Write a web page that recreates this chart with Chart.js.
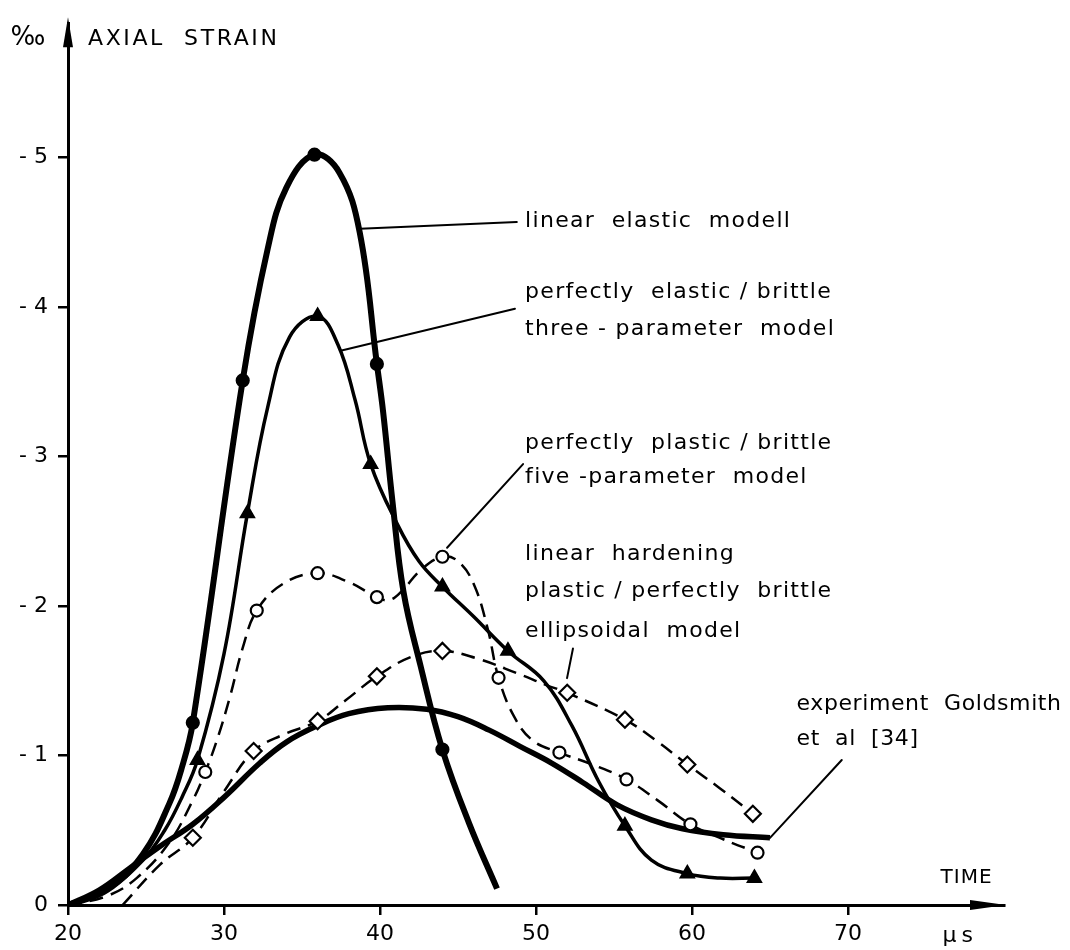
<!DOCTYPE html>
<html>
<head>
<meta charset="utf-8">
<script src="https://cdn.jsdelivr.net/npm/chart.js@4.4.1/dist/chart.umd.min.js"></script>
<style>
  html, body { margin: 0; padding: 0; background: #fff; }
  canvas { display: block; }
</style>
</head>
<body>
<canvas id="strain" width="1070" height="950"></canvas>
<script>
// Axial strain (‰, compressive, drawn upward) against time (µs)
const xTickValues = [20, 30, 40, 50, 60, 70];
const yTickValues = [0, 1, 2, 3, 4, 5];

// linear elastic model: marked points, and further points along its curve
const elasticMarks = [[28, 1.22], [31.2, 3.51], [35.8, 5.02], [39.8, 3.62], [44, 1.04]];
const elasticPath = [[20, 0], [22.5, 0.1], [24.8, 0.34], [26.5, 0.68], [27.3, 0.92], [32.8, 4.39],
  [34, 4.8], [37.4, 4.9], [38.7, 4.5], [40.2, 3.3], [40.8, 2.7], [41.5, 2.1], [42.6, 1.6],
  [45.7, 0.55], [47.5, 0.11]];

// perfectly elastic / brittle three-parameter model
const brittleMarks = [[28.3, 0.97], [31.5, 2.62], [36, 3.94], [39.4, 2.95], [44, 2.13], [48.2, 1.7],
  [55.7, 0.53], [59.7, 0.21], [64, 0.18]];
const brittlePath = [[20, 0], [22.5, 0.1], [24.8, 0.3], [26.2, 0.5], [27.3, 0.72], [30, 1.68],
  [32.8, 3.33], [34.2, 3.8], [37.3, 3.75], [38.4, 3.38], [41.1, 2.55], [42.5, 2.3], [46, 1.93],
  [50.5, 1.5], [52.3, 1.2], [54, 0.83], [57.4, 0.3], [61.8, 0.18]];

// perfectly plastic / brittle five-parameter model
const plasticMarks = [[28.8, 0.89], [32.1, 1.97], [36, 2.22], [39.8, 2.06], [44, 2.33], [47.6, 1.52],
  [51.5, 1.02], [55.8, 0.84], [59.9, 0.54], [64.2, 0.35]];
const plasticPath = [[20, 0], [22.5, 0.06], [24.4, 0.18], [26.5, 0.42], [28, 0.7], [29.6, 1.12],
  [30.4, 1.4], [31.2, 1.72], [33.8, 2.15], [38, 2.16], [40.6, 2.04], [41.4, 2.1], [42.6, 2.24],
  [45, 2.3], [46, 2.15], [46.9, 1.85], [48.6, 1.26], [49.8, 1.1], [53.6, 0.94], [57.8, 0.7], [62, 0.44]];

// linear hardening plastic / perfectly brittle ellipsoidal model
const ellipsoidMarks = [[28, 0.45], [31.9, 1.03], [36, 1.23], [39.8, 1.53], [44, 1.7], [52, 1.42],
  [55.7, 1.24], [59.7, 0.94], [63.9, 0.61]];
const ellipsoidPath = [[23.5, 0], [25.9, 0.27], [30, 0.76], [33.8, 1.14], [37.8, 1.37], [42, 1.66],
  [46.2, 1.65], [48.8, 1.55], [50.7, 1.47], [57.7, 1.1], [61.8, 0.78]];

// experiment, Goldsmith et al [34]
const experimentPath = [[20, 0], [22, 0.1], [24, 0.25], [26, 0.4], [28, 0.54], [30, 0.72],
  [32.3, 0.95], [34, 1.09], [36, 1.2], [38, 1.28], [40.5, 1.32], [43, 1.31], [45, 1.26], [47, 1.17],
  [49, 1.06], [51, 0.95], [53, 0.82], [55.2, 0.67], [57.4, 0.57], [59.4, 0.51], [62, 0.47], [65, 0.45]];

const ink = '#000';
const face = '"DejaVu Sans", "Liberation Sans", sans-serif';

const toPoints = arr => arr.map(([x, y]) => ({ x, y }));
const curveOf = (...parts) => toPoints([].concat(...parts).sort((a, b) => a[0] - b[0]));

const curve = (data, width, dash) => ({
  data, showLine: true, pointRadius: 0, pointHoverRadius: 0,
  borderColor: ink, borderWidth: width, borderDash: dash || [],
  borderCapStyle: 'butt', borderJoinStyle: 'round',
  tension: 0.4, order: 2
});
const marks = (data, style, radius, fill) => ({
  data, showLine: false, pointStyle: style, pointRadius: radius, pointHoverRadius: radius,
  pointBackgroundColor: fill, pointBorderColor: ink, pointBorderWidth: 2.2, order: 0
});

// text blocks and leader lines, placed in data units (time, strain)
const notes = [
  { t: 49.3, v: 4.535, text: 'linear  elastic  modell', gap: 1.3 },
  { t: 49.3, v: 4.06, text: 'perfectly  elastic / brittle', gap: 1.3 },
  { t: 49.3, v: 3.815, text: 'three - parameter  model', gap: 1.3 },
  { t: 49.3, v: 3.05, text: 'perfectly  plastic / brittle', gap: 1.3 },
  { t: 49.3, v: 2.825, text: 'five -parameter  model', gap: 1.3 },
  { t: 49.3, v: 2.31, text: 'linear  hardening', gap: 1.3 },
  { t: 49.3, v: 2.06, text: 'plastic / perfectly  brittle', gap: 1.3 },
  { t: 49.3, v: 1.795, text: 'ellipsoidal  model', gap: 1.3 },
  { t: 66.7, v: 1.307, text: 'experiment  Goldsmith', gap: 0.6 },
  { t: 66.7, v: 1.069, text: 'et  al  [34]', gap: 0.6 }
];
const leaders = [
  [38.72, 4.525, 48.77, 4.57],
  [37.54, 3.71, 48.65, 3.99],
  [44.3, 2.39, 49.17, 2.95],
  [52.37, 1.716, 51.99, 1.518],
  [65.0, 0.449, 69.6, 0.97]
];

const annotate = {
  id: 'annotate',
  afterDraw(chart) {
    const { ctx, scales: { x, y } } = chart;
    const X = t => x.getPixelForValue(t);
    const Y = v => y.getPixelForValue(v);
    const ox = X(20), oy = Y(0);
    ctx.save();
    ctx.fillStyle = ink;
    ctx.strokeStyle = ink;

    // arrowheads on both axes
    ctx.beginPath();
    ctx.moveTo(ox, y.top - 6);
    ctx.lineTo(ox - 5, y.top + 24);
    ctx.lineTo(ox + 5, y.top + 24);
    ctx.closePath();
    ctx.fill();
    ctx.beginPath();
    ctx.moveTo(x.right + 2, oy);
    ctx.lineTo(x.right - 34, oy - 5);
    ctx.lineTo(x.right - 34, oy + 5);
    ctx.closePath();
    ctx.fill();

    // leader lines
    ctx.lineWidth = 2;
    ctx.lineCap = 'round';
    leaders.forEach(([t1, v1, t2, v2]) => {
      ctx.beginPath();
      ctx.moveTo(X(t1), Y(v1));
      ctx.lineTo(X(t2), Y(v2));
      ctx.stroke();
    });

    // curve labels
    ctx.textAlign = 'left';
    ctx.textBaseline = 'alphabetic';
    ctx.font = '22px ' + face;
    notes.forEach(n => {
      ctx.letterSpacing = n.gap + 'px';
      ctx.fillText(n.text, X(n.t), Y(n.v));
    });

    // axis captions
    ctx.font = '22px ' + face;
    ctx.letterSpacing = '2.6px';
    ctx.fillText('AXIAL  STRAIN', ox + 20, 45);
    ctx.letterSpacing = '0px';
    ctx.textAlign = 'center';
    ctx.font = '26px ' + face;
    ctx.fillText('‰', 28, 45);
    ctx.font = '20px ' + face;
    ctx.letterSpacing = '1px';
    ctx.fillText('TIME', X(77.6), Y(0.145));
    ctx.font = '22px ' + face;
    ctx.letterSpacing = '5px';
    ctx.textBaseline = 'middle';
    ctx.fillText('µs', X(77.2), oy + 31);
    ctx.restore();
  }
};

new Chart(document.getElementById('strain'), {
  type: 'scatter',
  data: {
    datasets: [
      curve(curveOf(elasticMarks, elasticPath), 6),
      curve(curveOf(brittleMarks, brittlePath), 3.5),
      curve(curveOf(plasticMarks, plasticPath), 2.5, [14, 8]),
      curve(curveOf(ellipsoidMarks, ellipsoidPath), 2.5, [14, 8]),
      curve(toPoints(experimentPath), 5.5),
      marks(toPoints(elasticMarks), 'circle', 6, ink),
      marks(toPoints(brittleMarks), 'triangle', 7.5, ink),
      marks(toPoints(plasticMarks), 'circle', 6, '#fff'),
      marks(toPoints(ellipsoidMarks), 'rectRot', 8, '#fff')
    ]
  },
  options: {
    responsive: false,
    animation: false,
    events: [],
    layout: { padding: { top: 11, right: 66, left: 0, bottom: 0 } },
    plugins: { legend: { display: false }, tooltip: { enabled: false }, title: { display: false } },
    scales: {
      x: {
        type: 'linear', min: 20, max: 80,
        afterBuildTicks: s => { s.ticks = xTickValues.map(value => ({ value })); },
        afterFit: s => { s.height = 45; },
        ticks: { color: ink, font: { family: face, size: 22 }, padding: 6, maxRotation: 0, autoSkip: false },
        grid: { drawOnChartArea: false, drawTicks: true, tickLength: 10, color: ink, lineWidth: 2.5 },
        border: { display: true, color: ink, width: 3 }
      },
      y: {
        type: 'linear', min: 0, max: 5.9,
        afterBuildTicks: s => { s.ticks = yTickValues.map(value => ({ value })); },
        afterFit: s => { s.width = 68; },
        ticks: {
          color: ink, font: { family: face, size: 22 }, padding: 10,
          callback: v => (v === 0 ? '0' : '- ' + v)
        },
        grid: { drawOnChartArea: false, drawTicks: true, tickLength: 10, color: ink, lineWidth: 2.5 },
        border: { display: true, color: ink, width: 3 }
      }
    }
  },
  plugins: [annotate]
});
</script>
</body>
</html>
